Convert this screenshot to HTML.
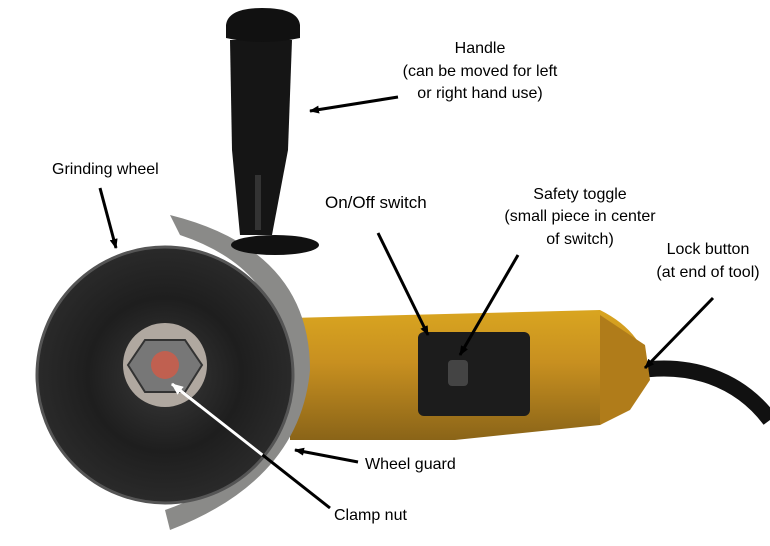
<!DOCTYPE html>
<html><head><meta charset="utf-8"><style>
html,body{margin:0;padding:0;background:#fff;width:770px;height:546px;overflow:hidden}
svg{display:block}
text{font-family:"Liberation Sans",sans-serif;font-size:16px;fill:#000}
</style></head><body>
<svg width="770" height="546" viewBox="0 0 770 546">
<defs>
<radialGradient id="wh" cx="50%" cy="50%" r="50%">
<stop offset="0" stop-color="#3a3a3a"/><stop offset="0.6" stop-color="#1e1e1e"/><stop offset="1" stop-color="#2a2a2a"/>
</radialGradient>
<linearGradient id="yb" x1="0" y1="0" x2="0" y2="1">
<stop offset="0" stop-color="#d9a520"/><stop offset="0.4" stop-color="#c89020"/><stop offset="1" stop-color="#8a6418"/>
</linearGradient>
<clipPath id="wc"><circle cx="165" cy="375" r="126"/></clipPath>
<marker id="ah" markerWidth="10" markerHeight="8" refX="9" refY="4" orient="auto" markerUnits="userSpaceOnUse"><path d="M0,0 L10,4 L0,8 z" fill="#000"/></marker>
<marker id="aw" markerWidth="12" markerHeight="10" refX="11" refY="5" orient="auto" markerUnits="userSpaceOnUse"><path d="M0,0 L12,5 L0,10 z" fill="#fff"/></marker>
</defs>
<!-- cord -->
<path d="M630,372 C690,360 740,380 770,420" stroke="#111" stroke-width="16" fill="none"/>
<!-- body -->
<path d="M290,318 L600,310 Q640,330 648,365 Q640,400 600,425 L455,440 L290,440 z" fill="url(#yb)"/>
<path d="M600,315 L645,345 L650,380 L630,410 L600,425 z" fill="#b07c1a"/>
<!-- switch -->
<rect x="418" y="332" width="112" height="84" rx="6" fill="#1c1c1c"/>
<rect x="448" y="360" width="20" height="26" rx="4" fill="#444"/>
<!-- guard -->
<path d="M170,215 Q310,250 310,370 Q300,480 170,530 L165,510 Q280,470 285,370 Q285,270 180,235 z" fill="#8a8a88"/>
<!-- wheel -->
<circle cx="165" cy="375" r="128" fill="url(#wh)"/>
<circle cx="165" cy="375" r="128" fill="none" stroke="#555" stroke-width="3"/>
<circle cx="165" cy="365" r="42" fill="#b0a8a0"/>
<polygon points="145,340 185,340 202,365 185,392 145,392 128,365" fill="#777" stroke="#333" stroke-width="2"/>
<circle cx="165" cy="365" r="14" fill="#c06050"/>
<!-- handle -->
<ellipse cx="275" cy="245" rx="44" ry="10" fill="#111"/>
<path d="M230,40 L292,40 L288,150 L272,235 L240,235 L232,150 z" fill="#151515"/>
<path d="M226,25 Q228,8 262,8 Q298,8 300,25 L300,38 Q262,46 226,38 z" fill="#111"/>
<rect x="255" y="175" width="6" height="55" fill="#333"/>
<!-- arrows -->
<g stroke="#000" stroke-width="3" fill="none">
<line x1="398" y1="97" x2="310" y2="111" marker-end="url(#ah)"/>
<line x1="100" y1="188" x2="116" y2="248" marker-end="url(#ah)"/>
<line x1="378" y1="233" x2="428" y2="335" marker-end="url(#ah)"/>
<line x1="518" y1="255" x2="460" y2="355" marker-end="url(#ah)"/>
<line x1="713" y1="298" x2="645" y2="368" marker-end="url(#ah)"/>
<line x1="358" y1="462" x2="295" y2="450" marker-end="url(#ah)"/>
<line x1="330" y1="508" x2="180" y2="390"/>
</g>
<line x1="330" y1="508" x2="172" y2="384" stroke="#fff" stroke-width="3" clip-path="url(#wc)"/>
<line x1="200" y1="406" x2="172" y2="384" stroke="#fff" stroke-width="3" marker-end="url(#aw)"/>
<!-- labels -->
<text x="480" y="53" text-anchor="middle">Handle</text>
<text x="480" y="76" text-anchor="middle">(can be moved for left</text>
<text x="480" y="98" text-anchor="middle">or right hand use)</text>
<text x="52" y="174">Grinding wheel</text>
<text x="325" y="208" style="font-size:17px">On/Off switch</text>
<text x="580" y="199" text-anchor="middle">Safety toggle</text>
<text x="580" y="221" text-anchor="middle">(small piece in center</text>
<text x="580" y="244" text-anchor="middle">of switch)</text>
<text x="708" y="254" text-anchor="middle">Lock button</text>
<text x="708" y="277" text-anchor="middle">(at end of tool)</text>
<text x="365" y="469">Wheel guard</text>
<text x="334" y="520">Clamp nut</text>
</svg>
</body></html>
